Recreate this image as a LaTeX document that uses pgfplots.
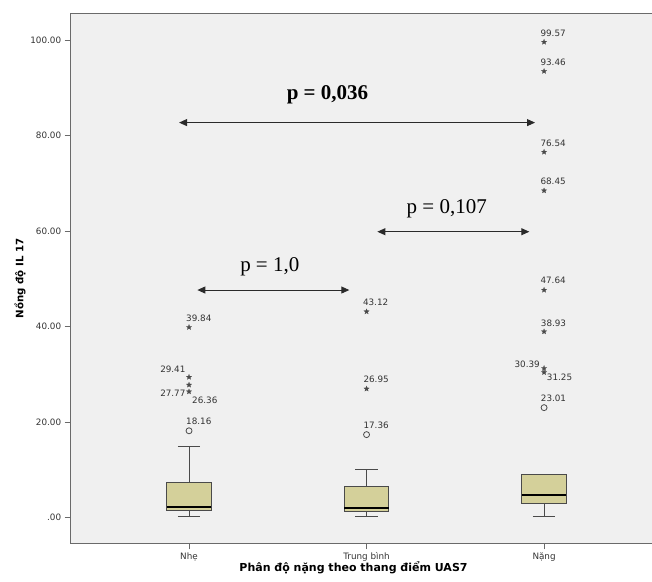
\documentclass[border=0pt]{standalone}
\usepackage{fontspec}
\setmainfont{DejaVu Sans}
\newfontfamily\timesf{Liberation Serif}
\usepackage{pgfplots}
\pgfplotsset{compat=1.18}
\usepgfplotslibrary{statistics}
\usetikzlibrary{arrows.meta}
\definecolor{bgcol}{HTML}{F0F0F0}
\definecolor{framecol}{HTML}{6A6A6A}
\definecolor{boxfill}{HTML}{D4D09A}
\definecolor{boxline}{HTML}{4A4A4A}
\definecolor{txtcol}{HTML}{333333}
\definecolor{arrcol}{HTML}{2A2A2A}
\pgfdeclareplotmark{sstar}{%
  \pgfpathmoveto{\pgfpointpolar{90}{\pgfplotmarksize}}%
  \pgfpathlineto{\pgfpointpolar{126}{0.42\pgfplotmarksize}}%
  \pgfpathlineto{\pgfpointpolar{162}{\pgfplotmarksize}}%
  \pgfpathlineto{\pgfpointpolar{198}{0.42\pgfplotmarksize}}%
  \pgfpathlineto{\pgfpointpolar{234}{\pgfplotmarksize}}%
  \pgfpathlineto{\pgfpointpolar{270}{0.42\pgfplotmarksize}}%
  \pgfpathlineto{\pgfpointpolar{306}{\pgfplotmarksize}}%
  \pgfpathlineto{\pgfpointpolar{342}{0.42\pgfplotmarksize}}%
  \pgfpathlineto{\pgfpointpolar{18}{\pgfplotmarksize}}%
  \pgfpathlineto{\pgfpointpolar{54}{0.42\pgfplotmarksize}}%
  \pgfpathclose\pgfusepathqfillstroke}
\newcommand{\lf}{\fontsize{8.8}{10}\selectfont}
\begin{document}
\begin{tikzpicture}
\begin{axis}[
  at={(70.7pt,37.7pt)}, anchor=south west,
  scale only axis, width=581.3pt, height=530pt,
  xmin=0.3335, xmax=3.608, ymin=-5.40, ymax=105.59,
  axis background/.style={fill=bgcol},
  axis line style={draw=none},
  xtick={1,2,3}, xticklabels={Nhẹ,Trung bình,Nặng},
  ytick={0,20,40,60,80,100},
  yticklabels={.00,20.00,40.00,60.00,80.00,100.00},
  xtick pos=bottom, ytick pos=left,
  tick align=outside,
  major tick length=6pt,
  tick style={draw=framecol, line width=0.8pt},
  ticklabel style={font=\lf, text=txtcol},
  /pgf/number format/assume math mode=true,
  xlabel={Phân độ nặng theo thang điểm UAS7},
  ylabel={Nồng độ IL 17},
  xlabel style={font=\fontsize{11}{13}\selectfont\bfseries, at={(axis description cs:0.4865,-0.0466)}, anchor=center},
  ylabel style={font=\fontsize{10.2}{12}\selectfont\bfseries, at={(axis description cs:-0.0872,0.5)}, anchor=center},
  boxplot/draw direction=y,
  boxplot/box extend=0.25,
  boxplot/whisker extend=0.125,
  boxplot/every median/.style={black, line width=1.8pt},
  clip=false,
]
\addplot[boxplot prepared={draw position=1, lower whisker=0.17, lower quartile=1.57, median=2.14, upper quartile=7.37, upper whisker=14.97}, fill=boxfill, draw=boxline, line width=0.8pt] coordinates {};
\addplot[boxplot prepared={draw position=2, lower whisker=0.25, lower quartile=1.30, median=1.93, upper quartile=6.53, upper whisker=10.0}, fill=boxfill, draw=boxline, line width=0.8pt] coordinates {};
\addplot[boxplot prepared={draw position=3, lower whisker=0.31, lower quartile=2.97, median=4.71, upper quartile=9.11, upper whisker=9.11}, fill=boxfill, draw=boxline, line width=0.8pt] coordinates {};
% mild outliers
\addplot[only marks, mark=o, mark size=3pt, draw=boxline, line width=0.8pt] coordinates {(1,18.16) (2,17.36) (3,23.01)};
% extreme outliers
\addplot[only marks, mark=sstar, mark size=2.8pt, draw=boxline, fill=boxline, line width=0.2pt] coordinates {
 (1,39.84) (1,29.41) (1,27.77) (1,26.36)
 (2,43.12) (2,26.95)
 (3,99.57) (3,93.46) (3,76.54) (3,68.45) (3,47.64) (3,38.93) (3,30.39) (3,31.25)};
% frame
\draw[framecol, line width=1.2pt] (rel axis cs:1,1) -- (rel axis cs:0,1) -- (rel axis cs:0,0) -- (rel axis cs:1,0);
% outlier labels
\begin{scope}[every node/.style={font=\lf, text=txtcol, inner sep=0pt}]
\node[anchor=west] at (axis cs:0.983,41.72) {39.84};
\node[anchor=east] at (axis cs:0.981,30.95) {29.41};
\node[anchor=east] at (axis cs:0.981,26.07) {27.77};
\node[anchor=west] at (axis cs:1.017,24.61) {26.36};
\node[anchor=west] at (axis cs:0.983,20.17) {18.16};
\node[anchor=west] at (axis cs:1.979,45.03) {43.12};
\node[anchor=west] at (axis cs:1.982,28.86) {26.95};
\node[anchor=west] at (axis cs:1.982,19.27) {17.36};
\node[anchor=west] at (axis cs:2.979,101.47) {99.57};
\node[anchor=west] at (axis cs:2.979,95.33) {93.46};
\node[anchor=west] at (axis cs:2.979,78.43) {76.54};
\node[anchor=west] at (axis cs:2.979,70.32) {68.45};
\node[anchor=west] at (axis cs:2.979,49.63) {47.64};
\node[anchor=west] at (axis cs:2.981,40.77) {38.93};
\node[anchor=east] at (axis cs:2.977,32.0) {30.39};
\node[anchor=west] at (axis cs:3.015,29.42) {31.25};
\node[anchor=west] at (axis cs:2.981,24.88) {23.01};
\end{scope}
% comparison arrows
\begin{scope}[arrcol, line width=0.9pt]
\draw[{Triangle[length=8pt,width=7pt]}-{Triangle[length=8pt,width=7pt]}] (axis cs:0.944,82.7) -- (axis cs:2.949,82.7);
\draw[{Triangle[length=8pt,width=7pt]}-{Triangle[length=8pt,width=7pt]}] (axis cs:2.061,59.85) -- (axis cs:2.917,59.85);
\draw[{Triangle[length=8pt,width=7pt]}-{Triangle[length=8pt,width=7pt]}] (axis cs:1.047,47.64) -- (axis cs:1.903,47.64);
\end{scope}
\node[anchor=base, font=\timesf\fontsize{21}{24}\selectfont\bfseries, text=black] at (axis cs:1.780,87.6) {p = 0,036};
\node[anchor=base, font=\timesf\fontsize{21}{24}\selectfont, text=black] at (axis cs:2.452,63.7) {p = 0,107};
\node[anchor=base, font=\timesf\fontsize{21}{24}\selectfont, text=black] at (axis cs:1.455,51.6) {p = 1,0};
\end{axis}
\pgfresetboundingbox
\useasboundingbox (0,0) rectangle (652pt,581pt);
\end{tikzpicture}
\end{document}
